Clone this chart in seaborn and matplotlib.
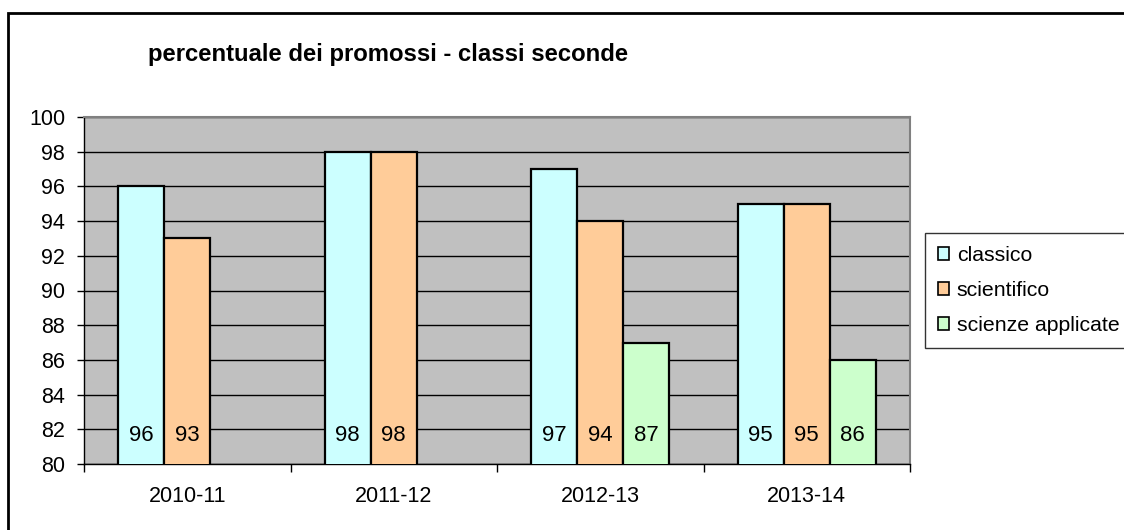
import numpy as np
import pandas as pd
import matplotlib
matplotlib.use("Agg")
import matplotlib.pyplot as plt
from matplotlib.patches import Rectangle, Patch
import seaborn as sns

years = ["2010-11", "2011-12", "2012-13", "2013-14"]
series = ["classico", "scientifico", "scienze applicate"]
classico = [96, 98, 97, 95]
scientifico = [93, 98, 94, 95]
scienze_applicate = [np.nan, np.nan, 87, 86]
colors = ["#CCFFFF", "#FFCC99", "#CCFFCC"]
title = "percentuale dei promossi - classi seconde"

rows = []
for name, vals in zip(series, [classico, scientifico, scienze_applicate]):
    for y, v in zip(years, vals):
        rows.append({"anno": y, "serie": name, "valore": v})
df = pd.DataFrame(rows)

sns.set_theme(style="white")
plt.rcParams["font.family"] = ["Liberation Sans", "DejaVu Sans"]
FS = 15.5

fig = plt.figure(figsize=(11.24, 5.30), dpi=100)
ax = fig.add_axes([84/1124, 1-464/530, (910-84)/1124, (464-117)/530])
ax.set_facecolor("#C0C0C0")

sns.barplot(data=df, x="anno", y="valore", hue="serie", order=years,
            hue_order=series, palette=colors, width=0.67, saturation=1,
            edgecolor="black", linewidth=1.6, legend=False, ax=ax, zorder=3)

ax.set_ylim(80, 100)
ax.set_xlim(-0.5, len(years) - 0.5)
ax.set_yticks(np.arange(80, 101, 2))
ax.yaxis.grid(True, color="black", linewidth=1)
ax.set_axisbelow(True)
ax.set_xlabel("")
ax.set_ylabel("")

for sp in ["top", "right"]:
    ax.spines[sp].set_color("#808080")
    ax.spines[sp].set_linewidth(1.5)
for sp in ["left", "bottom"]:
    ax.spines[sp].set_color("black")
    ax.spines[sp].set_linewidth(1)

ax.tick_params(axis="y", which="major", length=5, width=1, color="black",
               left=True, pad=8.5, labelsize=FS, labelcolor="black")
ax.set_xticks(np.arange(len(years)))
ax.set_xticklabels(years)
ax.tick_params(axis="x", which="major", length=0, pad=15.5, labelsize=FS,
               labelcolor="black")
ax.set_xticks(np.arange(-0.5, len(years), 1), minor=True)
ax.tick_params(axis="x", which="minor", length=6, width=1, color="black", bottom=True)

for p in ax.patches:
    h = p.get_height()
    if np.isfinite(h) and h > 0:
        ax.text(p.get_x() + p.get_width()/2, 81.62, f"{h:.0f}", ha="center",
                va="center", fontsize=16, color="black", zorder=5)

fig.text(148/1124, 1-55/530, title, fontsize=17.2, fontweight="bold",
         ha="left", va="center", color="black")

handles = [Patch(facecolor=c, edgecolor="black", linewidth=1.2) for c in colors]
leg = fig.legend(handles, series, loc="upper left",
                 bbox_to_anchor=(925/1124, 1-233/530), fontsize=15.3,
                 frameon=True, fancybox=False, edgecolor="black",
                 handlelength=0.52, handleheight=0.52, handletextpad=0.35,
                 labelspacing=0.75, borderpad=0.62, borderaxespad=0)
leg.get_frame().set_linewidth(1)
for t in leg.get_texts():
    t.set_color("black")

fig.patches.append(Rectangle((7.5/1124, -0.1), 2, 1.1 - 12.5/530,
                             transform=fig.transFigure, fill=False,
                             edgecolor="black", linewidth=2, zorder=10))

fig.savefig("out.png", dpi=100)
